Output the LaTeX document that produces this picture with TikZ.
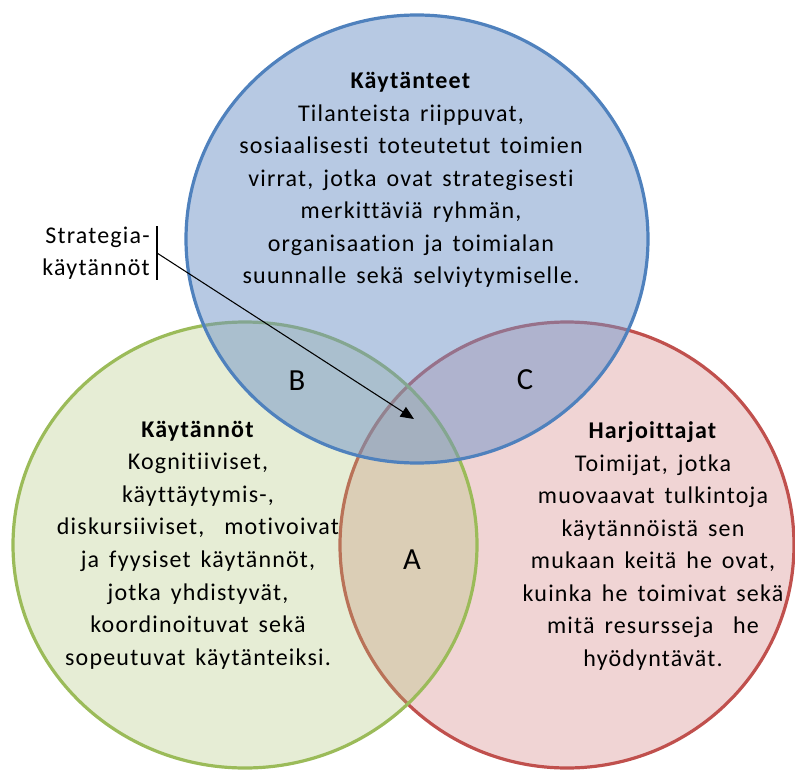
\documentclass[tikz,border=0pt]{standalone}
\usepackage{fontspec}
\setmainfont{Carlito}[LetterSpace=5,WordSpace=1.5,Ligatures=NoCommon]
\usetikzlibrary{shapes.geometric,arrows.meta,positioning}

\definecolor{ringblue}{RGB}{79,129,189}
\definecolor{fillblue}{RGB}{111,147,199}
\definecolor{ringgreen}{RGB}{155,187,89}
\definecolor{fillgreen}{RGB}{172,195,115}
\definecolor{ringred}{RGB}{192,80,77}
\definecolor{fillred}{RGB}{205,112,112}

\begin{document}
\begin{tikzpicture}[x=0.75pt,y=-0.75pt,
  set/.style={ellipse,inner sep=0pt,line width=2.4pt,draw opacity=1},
  settext/.style={align=center,inner sep=0pt,font=\fontsize{18}{24.4}\selectfont},
  region/.style={inner sep=0pt,font=\fontsize{23}{28}\selectfont},
  pointer/.style={line width=0.8pt,-{Triangle[length=10pt,width=8.5pt]}}]
 \useasboundingbox (0,0) rectangle (795,770);
 % the three sets
 \node[set,draw=ringred,fill=fillred,fill opacity=0.3,
       minimum width=340.5pt,minimum height=334.5pt] (harjoittajat) at (567,545) {};
 \node[set,draw=ringgreen,fill=fillgreen,fill opacity=0.3,
       minimum width=348pt,minimum height=334.5pt] (kaytannot) at (245,545) {};
 \node[set,draw=ringblue,fill=fillblue,fill opacity=0.5,
       minimum width=346.5pt,minimum height=336pt] (kaytanteet) at (417,239) {};
 % texts
 \node[settext] (kaytanteet-txt) at (411,180) {\textbf{Käytänteet}\\Tilanteista riippuvat,\\
   sosiaalisesti toteutetut toimien\\virrat, jotka ovat strategisesti\\
   merkittäviä ryhmän,\\organisaation ja toimialan\\suunnalle sekä selviytymiselle.};
 \node[settext] (kaytannot-txt) at (198,545) {\textbf{Käytännöt}\\Kognitiiviset,\\
   käyttäytymis-,\\diskursiiviset, \ motivoivat\\ja fyysiset käytännöt,\\
   jotka yhdistyvät,\\koordinoituvat sekä\\sopeutuvat käytänteiksi.};
 \node[settext] (harjoittajat-txt) at (653,546) {\textbf{Harjoittajat}\\Toimijat, jotka\\
   muovaavat tulkintoja\\käytännöistä sen\\mukaan keitä he ovat,\\
   kuinka he toimivat sekä\\mitä resursseja \ he\\hyödyntävät.};
 % intersections
 \node[region] (B) at (297,381) {B};
 \node[region] (C) at (525,380) {C};
 \node[region] (A) at (412,560) {A};
 % callout
 \node[settext,align=right,anchor=east] (strategia) at (150,253) {Strategia-\\käytännöt};
 \coordinate (bartop) at (157,226);
 \coordinate (barbot) at (157,280);
 \coordinate (callout) at (157,253);
 \coordinate (target) at (414,419);
 \draw[line width=0.8pt] (bartop) -- (barbot);
 \draw[pointer] (callout) -- (target);
\end{tikzpicture}
\end{document}
